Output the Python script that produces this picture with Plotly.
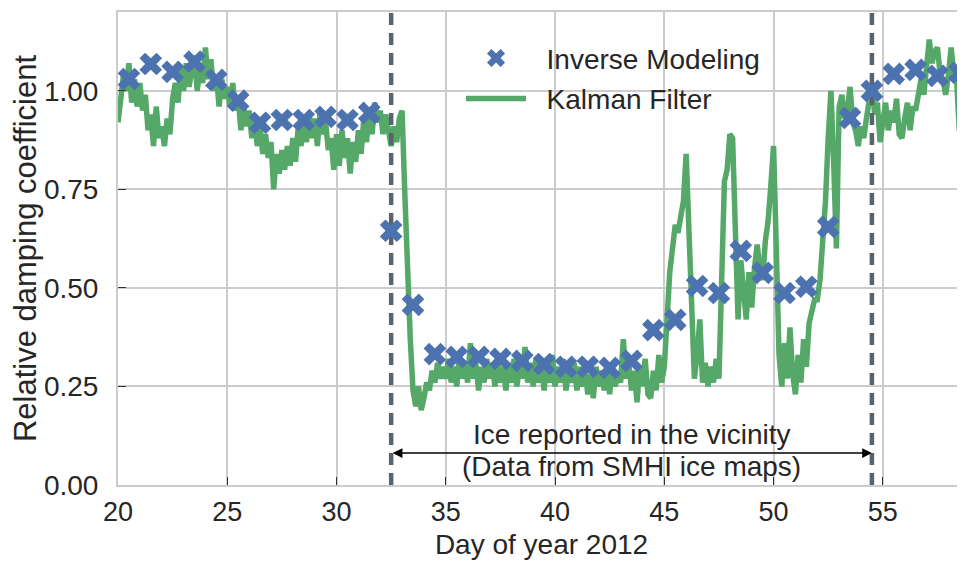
import numpy as np
import plotly.graph_objects as go

# ---------------- data ----------------
inverse_days = [20.5, 21.5, 22.5, 23.5, 24.5, 25.5, 26.5, 27.5, 28.5, 29.5,
                30.5, 31.5, 32.5, 33.5, 34.5, 35.5, 36.5, 37.5, 38.5, 39.5,
                40.5, 41.5, 42.5, 43.5, 44.5, 45.5, 46.5, 47.5, 48.5, 49.5,
                50.5, 51.5, 52.5, 53.5, 54.5, 55.5, 56.5, 57.5, 58.5]
inverse_values = [1.030, 1.068, 1.048, 1.074, 1.028, 0.975, 0.919, 0.926, 0.926, 0.934,
                  0.926, 0.944, 0.645, 0.457, 0.332, 0.325, 0.325, 0.320, 0.315, 0.307,
                  0.300, 0.300, 0.297, 0.315, 0.393, 0.419, 0.505, 0.487, 0.594, 0.538,
                  0.487, 0.503, 0.655, 0.931, 1.000, 1.043, 1.053, 1.038, 1.046]

# Kalman filter estimate, sampled every 1/8 day starting at day 20.0 (one row per day)
kalman_start_day = 20.0
kalman_step = 0.125
kalman_values = [
    0.92, 0.99, 1.04, 1.00, 1.07, 0.97, 1.03, 0.96,   # 20
    1.02, 0.95, 0.99, 0.90, 0.94, 0.86, 0.96, 0.88,   # 21
    0.91, 0.86, 0.93, 0.89, 0.98, 1.02, 0.97, 1.06,   # 22
    1.00, 1.07, 1.01, 1.05, 1.09, 1.00, 1.06, 1.02,   # 23
    1.11, 1.03, 1.08, 1.00, 1.04, 0.96, 1.03, 0.98,   # 24
    1.01, 0.96, 1.02, 0.95, 0.98, 0.90, 0.96, 0.91,   # 25
    0.95, 0.88, 0.93, 0.86, 0.91, 0.84, 0.89, 0.83,   # 26
    0.87, 0.75, 0.84, 0.79, 0.85, 0.80, 0.86, 0.81,   # 27
    0.88, 0.82, 0.91, 0.86, 0.93, 0.87, 0.94, 0.88,   # 28
    0.93, 0.86, 0.95, 0.89, 0.92, 0.85, 0.88, 0.80,   # 29
    0.89, 0.81, 0.90, 0.83, 0.88, 0.79, 0.87, 0.82,   # 30
    0.90, 0.84, 0.93, 0.87, 0.95, 0.89, 0.97, 0.92,   # 31
    0.95, 0.89, 0.94, 0.90, 0.86, 0.91, 0.87, 0.93,   # 32
    0.95, 0.74, 0.50, 0.37, 0.24, 0.20, 0.25, 0.19,   # 33
    0.22, 0.26, 0.24, 0.29, 0.26, 0.31, 0.27, 0.30,   # 34
    0.27, 0.32, 0.26, 0.30, 0.25, 0.33, 0.27, 0.31,   # 35
    0.26, 0.36, 0.27, 0.31, 0.24, 0.30, 0.26, 0.32,   # 36
    0.27, 0.31, 0.25, 0.33, 0.26, 0.30, 0.24, 0.31,   # 37
    0.26, 0.32, 0.25, 0.30, 0.27, 0.35, 0.26, 0.31,   # 38
    0.25, 0.32, 0.26, 0.30, 0.24, 0.31, 0.26, 0.33,   # 39
    0.25, 0.30, 0.26, 0.32, 0.24, 0.29, 0.26, 0.31,   # 40
    0.24, 0.30, 0.25, 0.29, 0.23, 0.28, 0.22, 0.30,   # 41
    0.25, 0.29, 0.24, 0.31, 0.23, 0.30, 0.25, 0.28,   # 42
    0.26, 0.37, 0.27, 0.31, 0.24, 0.29, 0.21, 0.30,   # 43
    0.25, 0.32, 0.23, 0.22, 0.29, 0.24, 0.33, 0.26,   # 44
    0.30, 0.45, 0.54, 0.60, 0.66, 0.64, 0.69, 0.72,   # 45
    0.84, 0.62, 0.38, 0.27, 0.33, 0.42, 0.26, 0.31,   # 46
    0.25, 0.30, 0.26, 0.32, 0.27, 0.55, 0.77, 0.80,   # 47
    0.89, 0.88, 0.59, 0.42, 0.57, 0.50, 0.42, 0.54,   # 48
    0.45, 0.55, 0.61, 0.55, 0.52, 0.62, 0.67, 0.76,   # 49
    0.86, 0.60, 0.33, 0.25, 0.36, 0.27, 0.40, 0.28,   # 50
    0.23, 0.33, 0.26, 0.37, 0.30, 0.41, 0.44, 0.47,   # 51
    0.47, 0.52, 0.62, 0.72, 0.88, 1.00, 0.82, 0.60,   # 52
    0.96, 0.99, 0.93, 0.95, 1.01, 0.92, 0.90, 0.86,   # 53
    0.91, 0.88, 0.93, 0.97, 1.02, 0.94, 0.97, 0.87,   # 54
    0.93, 0.97, 0.90, 0.95, 0.92, 0.98, 0.89, 0.88,   # 55
    0.93, 0.97, 0.90, 0.96, 0.95, 1.00, 1.03, 0.99,   # 56
    1.06, 1.13, 1.07, 1.10, 1.11, 1.04, 1.03, 0.99,   # 57
    1.04, 1.11, 1.04, 1.03, 0.90, 0.97, 0.99, 0.86,   # 58
]
kalman_days = kalman_start_day + kalman_step * np.arange(len(kalman_values))

ice_start_day = 32.5
ice_end_day = 54.5
ice_text_lines = ["Ice reported in the vicinity", "(Data from SMHI ice maps)"]

x_ticks = [20, 25, 30, 35, 40, 45, 50, 55]
y_ticks = [0.0, 0.25, 0.5, 0.75, 1.0]
x_range = [20, 58.76]
y_range = [0, 1.2]

# ---------------- styling ----------------
BLUE = "#4C72B0"
GREEN = "#55A868"
DASH = "#58636c"
GRID = "#cccccc"
TEXT = "#262626"
FONT = "Liberation Sans, Arial, sans-serif"
NB = "\u00a0\u00a0"  # small gap between legend symbol and label

fig = go.Figure()

fig.add_trace(go.Scatter(
    x=kalman_days, y=kalman_values, mode="lines", name=NB + "Kalman Filter",
    line=dict(color=GREEN, width=5.5), legendrank=2,
    legendgroup="b",
))

for d in (ice_start_day, ice_end_day):
    fig.add_trace(go.Scatter(
        x=[d, d], y=y_range, mode="lines", showlegend=False, hoverinfo="skip",
        line=dict(color=DASH, width=4.5, dash="12px,8px"),
    ))

fig.add_trace(go.Scatter(
    x=inverse_days, y=inverse_values, mode="markers", name=NB + "Inverse Modeling",
    marker=dict(symbol="x", color=BLUE, size=20, line=dict(width=0)),
    legendrank=1, legendgroup="a",
))

mid_day = (ice_start_day + ice_end_day) / 2
fig.add_annotation(
    x=ice_end_day, y=0.081, ax=ice_start_day, ay=0.081,
    xref="x", yref="y", axref="x", ayref="y",
    text="", showarrow=True, arrowside="end+start",
    arrowhead=2, arrowsize=1.3, arrowwidth=1.5, arrowcolor="black",
    standoff=0, startstandoff=0,
)
fig.add_annotation(x=mid_day, y=0.127, xref="x", yref="y", text=ice_text_lines[0],
                   showarrow=False, font=dict(size=28, color=TEXT, family=FONT))
fig.add_annotation(x=mid_day, y=0.046, xref="x", yref="y", text=ice_text_lines[1],
                   showarrow=False, font=dict(size=28, color=TEXT, family=FONT))

# the page places the figure 8 px from the top-left corner; margins compensate for that
fig.update_layout(
    width=965, height=562,
    margin=dict(l=110, r=8, t=4, b=85, autoexpand=False),
    paper_bgcolor="white", plot_bgcolor="white",
    font=dict(family=FONT, color=TEXT, size=27),
    showlegend=True,
    legend=dict(
        x=0.405, y=0.955, xanchor="left", yanchor="top",
        bgcolor="rgba(0,0,0,0)", borderwidth=0,
        font=dict(size=28, color=TEXT, family=FONT),
        itemwidth=60, traceorder="grouped", tracegroupgap=1,
    ),
    xaxis=dict(
        range=x_range, tickmode="array", tickvals=x_ticks,
        showgrid=True, gridcolor=GRID, gridwidth=2, zeroline=False,
        showline=True, linecolor=GRID, linewidth=2, mirror=True,
        ticks="inside", ticklen=8, tickcolor="#333333", tickwidth=1,
        tickfont=dict(size=27, color=TEXT, family=FONT),
        ticklabelstandoff=2, automargin=False,
        title=dict(text="Day of year 2012", font=dict(size=28, color=TEXT, family=FONT), standoff=8),
    ),
    yaxis=dict(
        range=y_range, tickmode="array", tickvals=y_ticks, tickformat=".2f",
        showgrid=True, gridcolor=GRID, gridwidth=2, zeroline=False,
        showline=True, linecolor=GRID, linewidth=2, mirror=False,
        ticks="inside", ticklen=8, tickcolor="#333333", tickwidth=1,
        tickfont=dict(size=28, color=TEXT, family=FONT),
        ticklabelstandoff=12, automargin=False,
        title=dict(text="Relative damping coefficient", font=dict(size=31, color=TEXT, family=FONT), standoff=8),
    ),
)

fig.write_html("out.html")
